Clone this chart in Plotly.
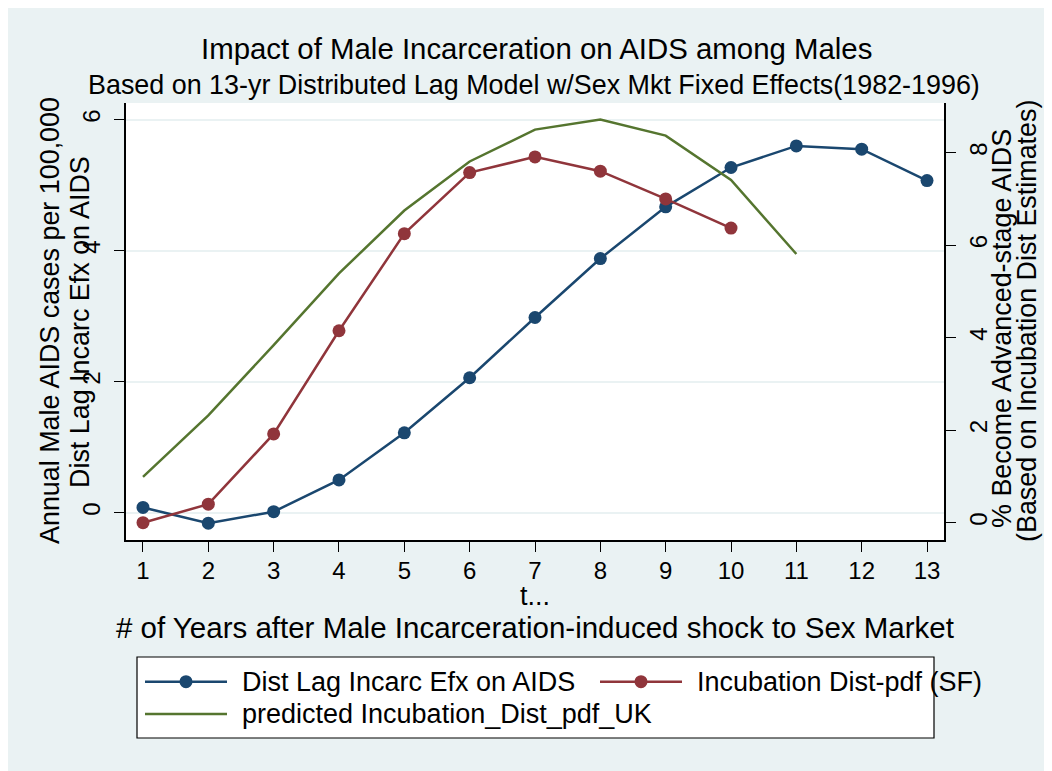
import plotly.graph_objects as go

# ---- data ----
t_vals = [1, 2, 3, 4, 5, 6, 7, 8, 9, 10, 11, 12, 13]
dist_lag = [0.08, -0.16, 0.015, 0.50, 1.22, 2.06, 2.98, 3.88, 4.67, 5.27, 5.60, 5.55, 5.07]
t_sf = [1, 2, 3, 4, 5, 6, 7, 8, 9, 10]
incub_sf = [0.0, 0.40, 1.92, 4.15, 6.25, 7.57, 7.91, 7.60, 7.00, 6.37]
t_uk = [1, 2, 3, 4, 5, 6, 7, 8, 9, 10, 11]
incub_uk = [0.99, 2.32, 3.84, 5.39, 6.75, 7.81, 8.50, 8.72, 8.37, 7.41, 5.81]
x_ticks = list(range(1, 14))
left_ticks = [0, 2, 4, 6]
right_ticks = [0, 2, 4, 6, 8]

series_names = ["Dist Lag Incarc Efx on AIDS", "Incubation Dist-pdf (SF)",
                "predicted Incubation_Dist_pdf_UK"]

BLUE = "#1a476f"
RED = "#90353b"
GREEN = "#55752f"
BG = "#eaf2f3"
FONT = "Liberation Sans, Arial, sans-serif"

OFF = 8  # page body margin
W, H = 1052 - OFF, 771 - OFF


def px(x):
    return (x - OFF) / W


def py(y):
    return 1 - (y - OFF) / H


fig = go.Figure()
fig.add_trace(go.Scatter(x=t_vals, y=dist_lag, mode="lines+markers", name=series_names[0],
                         line=dict(color=BLUE, width=2.5), marker=dict(color=BLUE, size=13),
                         yaxis="y", showlegend=False))
fig.add_trace(go.Scatter(x=t_sf, y=incub_sf, mode="lines+markers", name=series_names[1],
                         line=dict(color=RED, width=2.5), marker=dict(color=RED, size=13),
                         yaxis="y2", showlegend=False))
fig.add_trace(go.Scatter(x=t_uk, y=incub_uk, mode="lines", name=series_names[2],
                         line=dict(color=GREEN, width=2.5),
                         yaxis="y2", showlegend=False))

xdom = [px(126), px(944)]
ydom = [py(540), py(103)]

fig.update_layout(
    width=W, height=H,
    margin=dict(l=0, r=0, t=0, b=0, autoexpand=False),
    paper_bgcolor=BG, plot_bgcolor="white",
    font=dict(family=FONT, color="black"),
    showlegend=False,
    xaxis=dict(domain=xdom, range=[0.74, 13.26], tickvals=x_ticks, ticks="outside",
               ticklen=10, tickcolor="black", showgrid=False, zeroline=False,
               showline=True, linecolor="black", linewidth=1.5,
               tickfont=dict(size=24), ticklabelstandoff=-2),
    yaxis=dict(domain=ydom, range=[-0.417, 6.255], tickvals=left_ticks, ticks="outside",
               ticklen=10, tickcolor="black", showgrid=True, gridcolor=BG, gridwidth=2,
               zeroline=False, showline=True, linecolor="black", linewidth=1.5,
               tickangle=-90, tickfont=dict(size=24), ticklabelstandoff=5),
    yaxis2=dict(domain=ydom, range=[-0.374, 9.075], tickvals=right_ticks, ticks="outside",
                ticklen=10, tickcolor="black", showgrid=False, zeroline=False,
                showline=True, linecolor="black", linewidth=1.5, overlaying="y",
                side="right", anchor="x", tickangle=-90, tickfont=dict(size=24),
                ticklabelstandoff=2),
)

ann = []


def text(x, y, s, size, angle=0, xanchor="center"):
    ann.append(dict(x=px(x), y=py(y), xref="paper", yref="paper", text=s, showarrow=False,
                    font=dict(size=size, family=FONT, color="black"), textangle=angle,
                    xanchor=xanchor, yanchor="middle"))


text(536, 49, "Impact of Male Incarceration on AIDS among Males", 29.4)
text(534, 85, "Based on 13-yr Distributed Lag Model w/Sex Mkt Fixed Effects(1982-1996)", 26.9)
text(50, 321, "Annual Male AIDS cases per 100,000", 26.9, -90)
text(80, 322, "Dist Lag Incarc Efx on AIDS", 26.9, -90)
text(1002, 329, "% Become Advanced-stage AIDS", 26.9, -90)
text(1027, 321, "(Based on Incubation Dist Estimates)", 26.9, -90)
text(535, 596, "t...", 26.9)
text(535, 627, "# of Years after Male Incarceration-induced shock to Sex Market", 29.5)

# legend (manual)
shapes = [dict(type="rect", xref="paper", yref="paper", x0=px(137), x1=px(934),
               y0=py(738), y1=py(657), fillcolor="white", line=dict(color="black", width=1.2),
               layer="below")]
legend_rows = [(145, 681.7, BLUE, True, series_names[0]),
               (600, 681.7, RED, True, series_names[1]),
               (145, 714, GREEN, False, series_names[2])]
for lx, ly, col, mk, name in legend_rows:
    shapes.append(dict(type="line", xref="paper", yref="paper", x0=px(lx), x1=px(lx + 82),
                       y0=py(ly), y1=py(ly), line=dict(color=col, width=2.5)))
    if mk:
        cx = lx + 41
        r = 6.5
        shapes.append(dict(type="circle", xref="paper", yref="paper", x0=px(cx - r),
                           x1=px(cx + r), y0=py(ly + r), y1=py(ly - r), fillcolor=col,
                           line=dict(color=col, width=0)))
    text(lx + 95, ly, name, 27, xanchor="left")

fig.update_layout(annotations=ann, shapes=shapes)
fig.write_html("out.html")
